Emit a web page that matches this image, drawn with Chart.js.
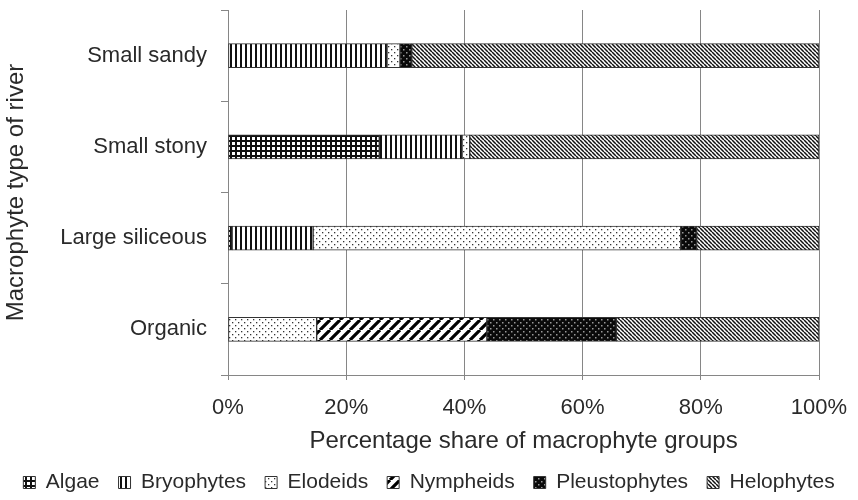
<!DOCTYPE html>
<html>
<head>
<meta charset="utf-8">
<script src="https://cdn.jsdelivr.net/npm/chart.js@4/dist/chart.umd.min.js"></script>
<style>
  html, body { margin: 0; padding: 0; background: #fff; }
  #wrap { width: 858px; height: 500px; }
</style>
</head>
<body>
<div id="wrap"><canvas id="c" width="858" height="500"></canvas></div>
<script>
// River types and the share (%) of each macrophyte group
const categories = ['Small sandy', 'Small stony', 'Large siliceous', 'Organic'];
const algae         = [0,    25.6, 0.7,  0];
const bryophytes    = [26.9, 14.0, 13.7, 0];
const elodeids      = [2.2,  1.3,  62.2, 15.0];
const nympheids     = [0,    0,    0,    28.8];
const pleustophytes = [2.0,  0,    2.7,  21.9];
const helophytes    = [68.9, 59.1, 20.7, 34.3];
const xTicks = [0, 20, 40, 60, 80, 100];

// Monochrome hatch fills
function tile(size, draw) {
  const cv = document.createElement('canvas');
  cv.width = size; cv.height = size;
  const g = cv.getContext('2d');
  draw(g, size);
  return g.createPattern(cv, 'repeat');
}
const patAlgae = tile(5, (g, s) => {
  g.fillStyle = '#fff'; g.fillRect(0, 0, s, s);
  g.fillStyle = '#111'; g.fillRect(0, 0, 2, s); g.fillRect(0, 0, s, 2);
});
const patBryo = tile(5, (g, s) => {
  g.fillStyle = '#fff'; g.fillRect(0, 0, s, s);
  g.fillStyle = '#111'; g.fillRect(0, 0, 2, s);
});
const patElod = tile(6, (g, s) => {
  g.fillStyle = '#fff'; g.fillRect(0, 0, s, s);
  g.fillStyle = '#333'; g.fillRect(1, 1, 1.3, 1.3); g.fillRect(4, 4, 1.3, 1.3);
});
const patNymph = tile(10, (g, s) => {
  g.fillStyle = '#fff'; g.fillRect(0, 0, s, s);
  g.strokeStyle = '#000'; g.lineWidth = 3.2;
  g.beginPath();
  for (const o of [-s, 0, s]) { g.moveTo(o, s); g.lineTo(o + s, 0); }
  g.stroke();
});
const patPleu = tile(6, (g, s) => {
  g.fillStyle = '#0a0a0a'; g.fillRect(0, 0, s, s);
  g.fillStyle = '#999'; g.fillRect(1, 1, 1.5, 1.5); g.fillRect(4, 4, 1.5, 1.5);
});
const patHelo = tile(4, (g, s) => {
  g.fillStyle = '#fff'; g.fillRect(0, 0, s, s);
  g.strokeStyle = '#111'; g.lineWidth = 1.5;
  g.beginPath();
  for (const o of [-s, 0, s]) { g.moveTo(o, 0); g.lineTo(o + s, s); }
  g.stroke();
});

const groups = [
  ['Algae', algae, patAlgae],
  ['Bryophytes', bryophytes, patBryo],
  ['Elodeids', elodeids, patElod],
  ['Nympheids', nympheids, patNymph],
  ['Pleustophytes', pleustophytes, patPleu],
  ['Helophytes', helophytes, patHelo]
];

const FONT = 'Liberation Sans, Arial, sans-serif';
const TXT = '#2a2a2a';
const AXIS = '#868686';

new Chart(document.getElementById('c'), {
  type: 'bar',
  data: {
    labels: categories,
    datasets: groups.map(([label, data, pat]) => ({
      label, data,
      backgroundColor: pat,
      borderColor: '#333',
      borderWidth: 1,
      borderSkipped: false,
      barThickness: 24
    }))
  },
  options: {
    indexAxis: 'y',
    responsive: false,
    animation: false,
    devicePixelRatio: 1,
    layout: { padding: { top: 10, right: 0, left: 0, bottom: -3 } },
    plugins: {
      tooltip: { enabled: false },
      legend: {
        position: 'bottom',
        labels: {
          color: TXT,
          font: { family: FONT, size: 21 },
          boxWidth: 12, boxHeight: 12,
          padding: 19
        }
      }
    },
    scales: {
      x: {
        stacked: true,
        min: 0, max: 100,
        afterBuildTicks: (s) => { s.ticks = xTicks.map(v => ({ value: v })); },
        afterFit: (s) => { s.height = 78; s.paddingLeft = 0; s.paddingRight = 0; },
        ticks: {
          color: TXT, font: { family: FONT, size: 22 }, padding: 15,
          callback: (v) => v + '%', maxRotation: 0
        },
        grid: { color: AXIS, lineWidth: 1, tickLength: 5 },
        border: { color: AXIS, width: 1 },
        title: {
          display: true, text: 'Percentage share of macrophyte groups',
          color: TXT, font: { family: FONT, size: 24 }, padding: { top: 4, bottom: -3 }
        }
      },
      y: {
        stacked: true,
        afterFit: (s) => { s.width = 228; s.paddingTop = 0; s.paddingBottom = 0; },
        ticks: { color: TXT, font: { family: FONT, size: 22 }, padding: 14 },
        grid: { offset: true, drawOnChartArea: false, color: AXIS, tickLength: 7 },
        border: { color: AXIS, width: 1 },
        title: {
          display: true, text: 'Macrophyte type of river',
          color: TXT, font: { family: FONT, size: 24 }, padding: { top: 2 }
        }
      },
      // empty strip reserving the right margin beside the plot
      gutter: {
        type: 'linear',
        position: 'right',
        display: true,
        afterFit: (s) => { s.width = 39; s.paddingTop = 0; s.paddingBottom = 0; },
        ticks: { display: false },
        grid: { display: false },
        border: { display: false }
      }
    }
  }
});
</script>
</body>
</html>
